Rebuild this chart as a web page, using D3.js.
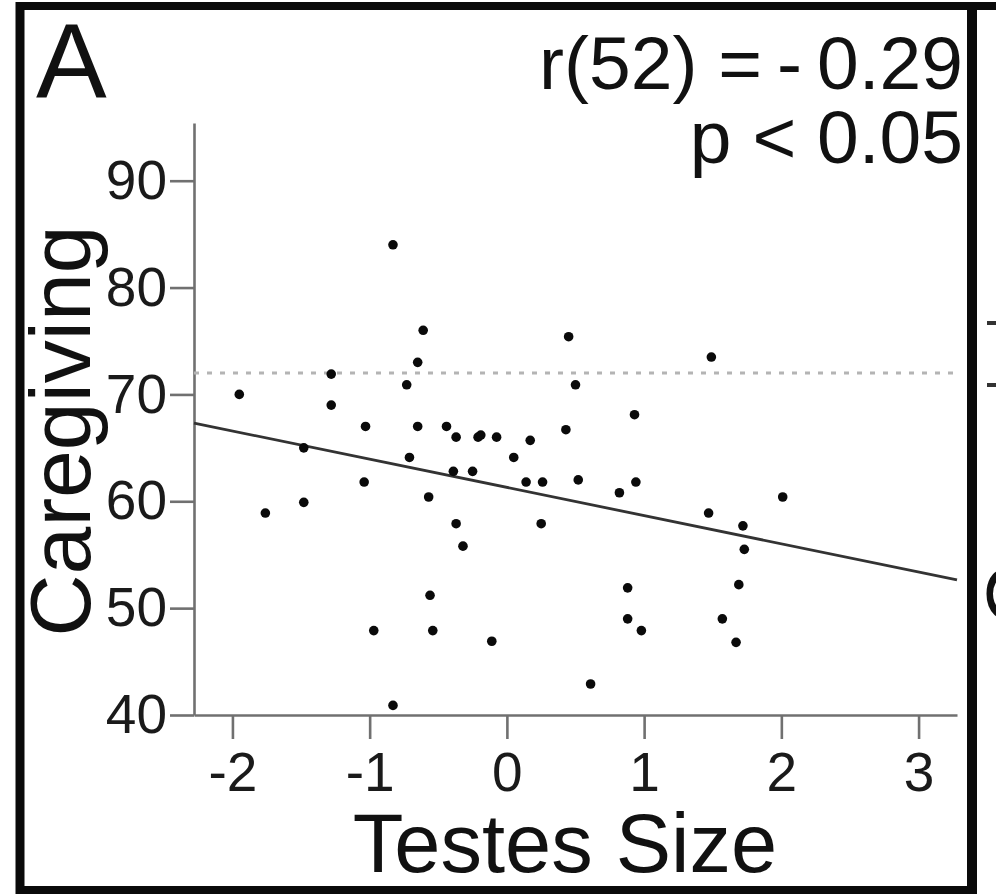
<!DOCTYPE html>
<html>
<head>
<meta charset="utf-8">
<script src="https://cdn.jsdelivr.net/npm/d3@7"></script>
<style>
    body { margin: 0; background: #fff; }
    text { font-family: 'Liberation Sans', Arial, Helvetica, sans-serif; fill: #111; }
    .axis path, .axis line { stroke: #707070; stroke-width: 2.6; }
    .axis text { font-size: 55px; fill: #1a1a1a; }
</style>
</head>
<body>
<div id="chart"></div>
<script>
// values (testes size z-score vs caregiving score)
var testesSize = [-1.95, -1.76, -1.48, -1.48, -1.28, -1.28, -1.03, -1.04, -0.97, -0.83,
    -0.83, -0.73, -0.71, -0.65, -0.65, -0.61, -0.57, -0.56, -0.54, -0.44,
    -0.39, -0.37, -0.37, -0.32, -0.25, -0.21, -0.19, -0.11, -0.075, 0.05,
    0.14, 0.17, 0.26, 0.25, 0.43, 0.45, 0.50, 0.52, 0.61, 0.82,
    0.88, 0.88, 0.93, 0.94, 0.98, 1.47, 1.49, 1.57, 1.67, 1.69,
    1.72, 1.73, 2.01];
var caregiving = [70.0, 58.9, 65.0, 59.9, 71.9, 69.0, 67.0, 61.8, 47.9, 84.0,
    40.9, 70.9, 64.1, 73.0, 67.0, 76.0, 60.4, 51.2, 47.9, 67.0,
    62.8, 66.0, 57.9, 55.8, 62.8, 66.0, 66.2, 46.9, 66.0, 64.1,
    61.8, 65.7, 61.8, 57.9, 66.7, 75.4, 70.9, 62.0, 42.9, 60.8,
    51.9, 49.0, 68.1, 61.8, 47.9, 58.9, 73.5, 49.0, 46.8, 52.2,
    57.7, 55.5, 60.4];

var xTicks = [-2, -1, 0, 1, 2, 3];
var yTicks = [40, 50, 60, 70, 80, 90];

// fitted line and reference level as drawn in the figure
var fitIntercept = 61.3, fitSlope = -2.64;
var refLevel = 72;
var statLines = ['r(52) =\u2009-\u20090.29', 'p < 0.05'];

var W = 996, H = 894;
var margin = { top: 123, left: 194, bottom: 179, right: 39 },
    width = W - margin.left - margin.right,
    height = H - margin.top - margin.bottom;

var root = d3.select('#chart').append('svg')
    .attr('width', W)
    .attr('height', H);

var svg = root.append('g')
    .attr('transform', 'translate(' + margin.left + ', ' + margin.top + ')');

var x = d3.scaleLinear().domain([-2.28, 3.28]).range([0, width]);
var y = d3.scaleLinear().domain([40, 95.4]).range([height, 0]);

var points = testesSize.map((d, i) => ({ x: d, y: caregiving[i] }));

///////////////////////////////////////////////////////////////
// axes
///////////////////////////////////////////////////////////////

// plain hyphen for negatives, like the original figure
var fmt = d => String(d);

var xAxis = d3.axisBottom(x)
    .tickValues(xTicks)
    .tickSize(24)
    .tickSizeOuter(0)
    .tickPadding(13)
    .tickFormat(fmt);

svg.append('g')
    .attr('class', 'axis')
    .attr('transform', 'translate(0,' + height + ')')
    .call(xAxis);

var yAxis = d3.axisLeft(y)
    .tickValues(yTicks)
    .tickSize(24)
    .tickSizeOuter(0)
    .tickPadding(3)
    .tickFormat(fmt);

svg.append('g')
    .attr('class', 'axis')
    .call(yAxis);

svg.selectAll('.axis .domain').attr('stroke', '#707070');

///////////////////////////////////////////////////////////////
// reference line, fit, points
///////////////////////////////////////////////////////////////

svg.append('line')
    .attr('x1', x(x.domain()[0]))
    .attr('x2', x(x.domain()[1]))
    .attr('y1', y(refLevel))
    .attr('y2', y(refLevel))
    .attr('stroke', '#b4b4b4')
    .attr('stroke-width', 3)
    .attr('stroke-dasharray', '5,8');

var fit = x.domain().map(v => ({ x: v, y: fitIntercept + fitSlope * v }));

svg.append('path')
    .datum(fit)
    .attr('fill', 'none')
    .attr('stroke', '#333')
    .attr('stroke-width', 2.8)
    .attr('d', d3.line().x(d => x(d.x)).y(d => y(d.y)));

svg.selectAll('.dot')
    .data(points)
    .enter()
    .append('circle')
    .attr('class', 'dot')
    .attr('cx', d => x(d.x))
    .attr('cy', d => y(d.y))
    .attr('r', 4.8)
    .attr('fill', '#0a0a0a');

///////////////////////////////////////////////////////////////
// labels
///////////////////////////////////////////////////////////////

root.append('text')
    .attr('x', 565)
    .attr('y', 872)
    .attr('text-anchor', 'middle')
    .style('font-size', '83px')
    .text('Testes Size');

root.append('text')
    .attr('transform', 'translate(90,431) rotate(-90)')
    .attr('text-anchor', 'middle')
    .style('font-size', '86px')
    .text('Caregiving');

root.append('text')
    .attr('x', 36)
    .attr('y', 97)
    .style('font-size', '106px')
    .text('A');

root.selectAll('.stat')
    .data(statLines)
    .enter()
    .append('text')
    .attr('class', 'stat')
    .attr('x', 963)
    .attr('y', (d, i) => i === 0 ? 89 : 163)
    .attr('text-anchor', 'end')
    .style('font-size', (d, i) => i === 0 ? '75px' : '75px')
    .text(d => d);

///////////////////////////////////////////////////////////////
// panel frame (and the edge of the next panel)
///////////////////////////////////////////////////////////////

var frame = root.append('g').attr('stroke', '#0a0a0a');

frame.append('line').attr('x1', 16).attr('x2', W).attr('y1', 6).attr('y2', 6).attr('stroke-width', 8);
frame.append('line').attr('x1', 20).attr('x2', 20).attr('y1', 2).attr('y2', 894).attr('stroke-width', 9);
frame.append('line').attr('x1', 972).attr('x2', 972).attr('y1', 2).attr('y2', 894).attr('stroke-width', 10);
frame.append('line').attr('x1', 16).attr('x2', 976).attr('y1', 890).attr('y2', 890).attr('stroke-width', 8);

[323, 385].forEach(function (yy) {
    frame.append('line')
        .attr('x1', 987).attr('x2', W)
        .attr('y1', yy).attr('y2', yy)
        .attr('stroke', '#333')
        .attr('stroke-width', 4);
});

root.append('text')
    .attr('transform', 'translate(1046,596) rotate(-90)')
    .attr('text-anchor', 'middle')
    .style('font-size', '86px')
    .text('C');
</script>
</body>
</html>
